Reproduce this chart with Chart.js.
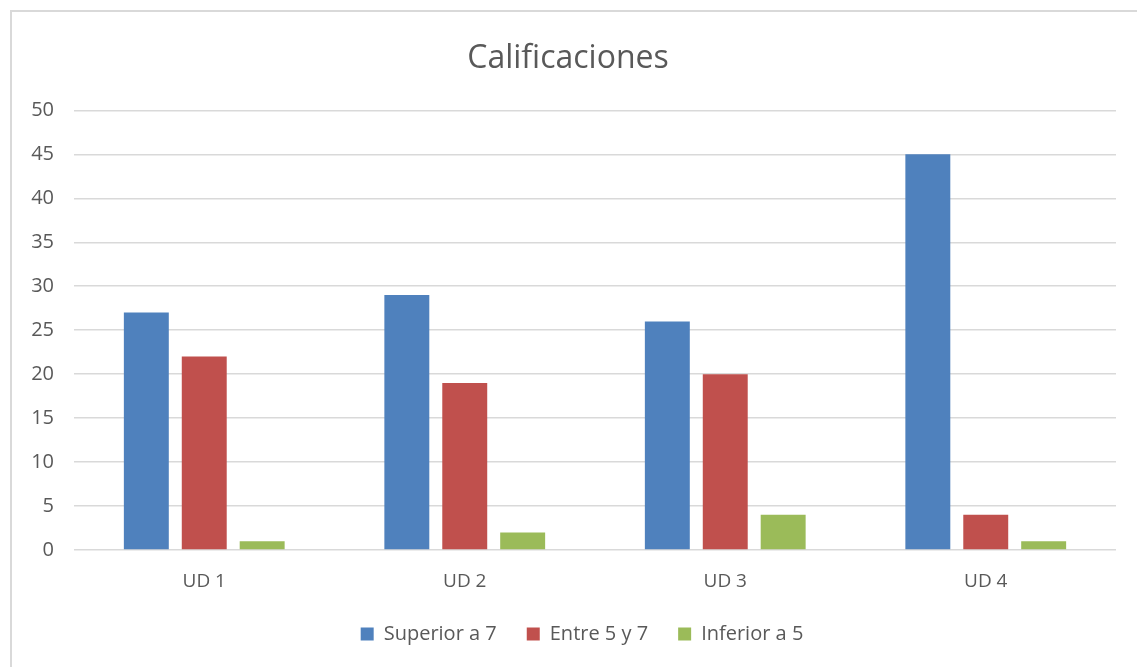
<!DOCTYPE html>
<html>
<head>
<meta charset="utf-8">
<script src="https://cdn.jsdelivr.net/npm/chart.js@4"></script>
<style>
html,body{margin:0;padding:0;background:#fff;width:1137px;height:667px;overflow:hidden;}
#frame{position:absolute;left:10px;top:10px;width:1200px;height:700px;border:2px solid #d9d9d9;}
#wrap{position:absolute;left:0;top:0;width:1137px;height:654px;}
</style>
</head>
<body>
<div id="frame"></div>
<div id="wrap"><canvas id="c" width="1137" height="654"></canvas></div>
<script>
const categories = ["UD 1", "UD 2", "UD 3", "UD 4"];
const seriesNames = ["Superior a 7", "Entre 5 y 7", "Inferior a 5"];
const superior = [27, 29, 26, 45];
const entre = [22, 19, 20, 4];
const inferior = [1, 2, 4, 1];
const colors = ["#4F81BD", "#C0504D", "#9BBB59"];
const yMin = 0, yMax = 50, yStep = 5;

const FONT = "'Open Sans', sans-serif";
const TXT = "#595959";

const legendShift = {
  id: 'legendShift',
  afterLayout(chart) {
    if (chart.legend) { chart.legend.left += 14; chart.legend.right += 14; }
  }
};

new Chart(document.getElementById('c'), {
  type: 'bar',
  data: {
    labels: categories,
    datasets: [superior, entre, inferior].map((d, i) => ({
      label: seriesNames[i],
      data: d,
      backgroundColor: colors[i],
      borderWidth: 0,
      categoryPercentage: 0.667,
      barPercentage: 0.776
    }))
  },
  plugins: [legendShift],
  options: {
    responsive: false,
    animation: false,
    devicePixelRatio: 1,
    layout: { padding: { left: 20, right: 21, top: 0, bottom: 0 } },
    plugins: {
      title: {
        display: true,
        text: 'Calificaciones',
        color: TXT,
        font: { family: FONT, size: 32, weight: 'normal' },
        padding: { top: 40, bottom: 32 }
      },
      legend: {
        position: 'bottom',
        labels: {
          color: TXT,
          font: { family: FONT, size: 20 },
          boxWidth: 13,
          boxHeight: 13,
          padding: 30
        }
      },
      tooltip: { enabled: false }
    },
    scales: {
      x: {
        grid: { display: false },
        border: { display: false },
        ticks: { color: TXT, font: { family: FONT, size: 19 }, padding: 12 },
        afterFit: (s) => { s.height = 44; }
      },
      y: {
        min: yMin, max: yMax,
        ticks: { stepSize: yStep, color: TXT, font: { family: FONT, size: 20 }, padding: 20 },
        grid: { color: '#d9d9d9', lineWidth: 1.5, drawTicks: false },
        border: { display: false },
        afterFit: (s) => { s.width = 54; }
      }
    }
  }
});
</script>
</body>
</html>
